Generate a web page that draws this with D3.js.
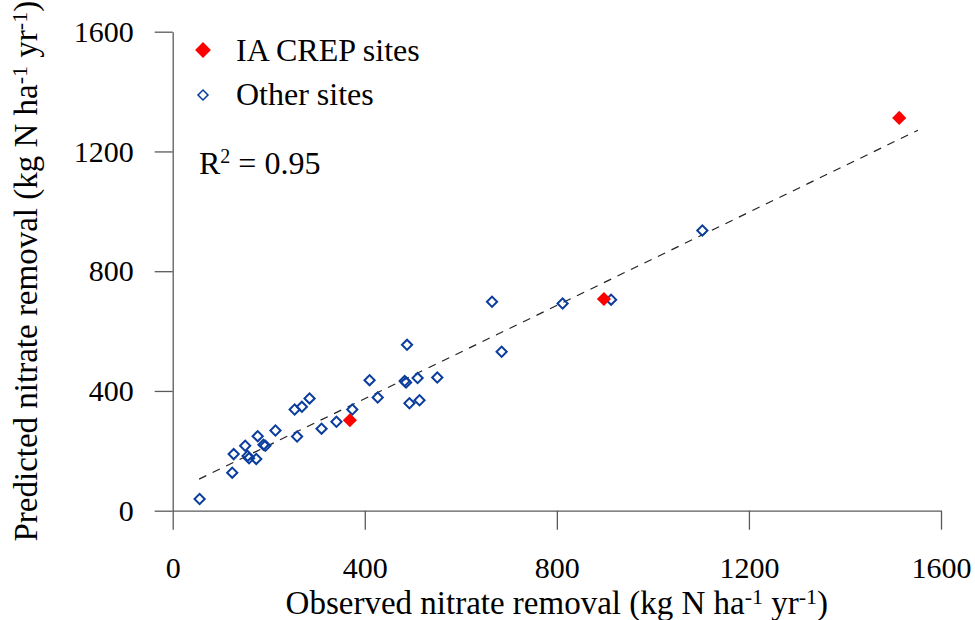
<!DOCTYPE html>
<html>
<head>
<meta charset="utf-8">
<script src="https://cdn.jsdelivr.net/npm/d3@7"></script>
<style>
  html, body { margin: 0; padding: 0; background: #fff; }
  svg { display: block; }
  svg text { font-family: "Liberation Serif", "Times New Roman", serif; fill: #000; }
</style>
</head>
<body>
<svg id="chart" width="975" height="620"></svg>
<script>
// Observed vs. predicted nitrate removal (kg N ha-1 yr-1)
const crepObserved  = [369, 898, 1513];
const crepPredicted = [302, 707, 1312];

const otherObserved  = [56, 124, 127, 151, 156, 159, 174, 177, 189, 193, 214, 254, 269, 285, 259, 310,
                        341, 374, 410, 427, 483, 486, 510, 551, 493, 514, 665, 488, 685, 812, 913, 1103];
const otherPredicted = [39, 127, 189, 217, 183, 175, 173, 249, 220, 217, 268, 338, 347, 375, 248, 274,
                        297, 338, 436, 378, 433, 428, 443, 445, 359, 369, 698, 554, 531, 692, 705, 936];

// Fitted line: predicted = slope * observed + intercept, drawn over this observed range
const fitSlope = 0.7785;
const fitIntercept = 62.7;
const fitRange = [55, 1552];
const rSquared = "0.95";

const xTicks = [0, 400, 800, 1200, 1600];
const yTicks = [0, 400, 800, 1200, 1600];
const seriesNames = ["IA CREP sites", "Other sites"];

const serif = '"Liberation Serif", "Times New Roman", serif';
const svg = d3.select("#chart");
const x = d3.scaleLinear().domain([0, 1600]).range([172.7, 941]);
const y = d3.scaleLinear().domain([0, 1600]).range([510.7, 31.7]);

const axisColor = "#5a5a5a";
const blue = "#0a3d9c";
const red = "#ff0000";

// x axis
const gx = svg.append("g")
  .attr("transform", `translate(0,${y(0)})`)
  .call(d3.axisBottom(x).tickValues(xTicks).tickFormat(d3.format("d"))
    .tickSize(19).tickSizeOuter(0).tickPadding(27));

// y axis
const gy = svg.append("g")
  .attr("transform", `translate(${x(0)},0)`)
  .call(d3.axisLeft(y).tickValues(yTicks).tickFormat(d3.format("d"))
    .tickSize(18).tickSizeOuter(0).tickPadding(21));

[gx, gy].forEach(g => {
  g.attr("font-family", serif).attr("font-size", 30);
  g.selectAll("path, line").attr("stroke", axisColor).attr("stroke-width", 1.3);
  g.selectAll("text").attr("fill", "#000").style("font-family", serif).style("font-size", "30px");
});

// fitted line
svg.append("path")
  .datum(fitRange)
  .attr("d", d3.line().x(d => x(d)).y(d => y(fitSlope * d + fitIntercept)))
  .attr("fill", "none")
  .attr("stroke", "#222")
  .attr("stroke-width", 1.2)
  .attr("stroke-dasharray", "8,7");

// a square turned 45 degrees
const diamond = area => d3.symbol().type(d3.symbolSquare).size(area)();

// other sites: open blue diamonds
svg.append("g").selectAll("path")
  .data(otherObserved.map((o, i) => [o, otherPredicted[i]]))
  .join("path")
  .attr("d", diamond(52))
  .attr("transform", d => `translate(${x(d[0])},${y(d[1])}) rotate(45)`)
  .attr("fill", "none")
  .attr("stroke", blue)
  .attr("stroke-width", 2);

// IA CREP sites: filled red diamonds
svg.append("g").selectAll("path")
  .data(crepObserved.map((o, i) => [o, crepPredicted[i]]))
  .join("path")
  .attr("d", diamond(100))
  .attr("transform", d => `translate(${x(d[0])},${y(d[1])}) rotate(45)`)
  .attr("fill", red);

// legend
const legend = svg.append("g");
legend.append("path")
  .attr("d", diamond(125))
  .attr("transform", "translate(203,50) rotate(45)")
  .attr("fill", red);
legend.append("path")
  .attr("d", diamond(50))
  .attr("transform", "translate(203,95) rotate(45)")
  .attr("fill", "none").attr("stroke", blue).attr("stroke-width", 1.5);
legend.selectAll("text.name")
  .data(seriesNames)
  .join("text")
  .attr("class", "name")
  .attr("x", 236)
  .attr("y", (d, i) => 61 + i * 44)
  .style("font-size", "32px")
  .text(d => d);

// R squared note
const r2 = svg.append("text").attr("x", 199).attr("y", 174).style("font-size", "32px");
r2.append("tspan").text("R");
r2.append("tspan").attr("dy", -11).style("font-size", "20px").text("2");
r2.append("tspan").attr("dy", 11).text(" = " + rSquared);

// axis title with superscripts
function unitTitle(sel, lead) {
  sel.append("tspan").text(lead + " (kg N ha");
  sel.append("tspan").attr("dy", -10).style("font-size", "22px").text("-1");
  sel.append("tspan").attr("dy", 10).text(" yr");
  sel.append("tspan").attr("dy", -10).style("font-size", "22px").text("-1");
  sel.append("tspan").attr("dy", 10).text(")");
}

const xTitle = svg.append("text")
  .attr("x", (x(0) + x(1600)) / 2)
  .attr("y", 614)
  .attr("text-anchor", "middle")
  .style("font-size", "33px");
unitTitle(xTitle, "Observed nitrate removal");

const yTitle = svg.append("text")
  .attr("transform", `translate(37,${(y(0) + y(1600)) / 2}) rotate(-90)`)
  .attr("text-anchor", "middle")
  .style("font-size", "33px");
unitTitle(yTitle, "Predicted nitrate removal");
</script>
</body>
</html>
